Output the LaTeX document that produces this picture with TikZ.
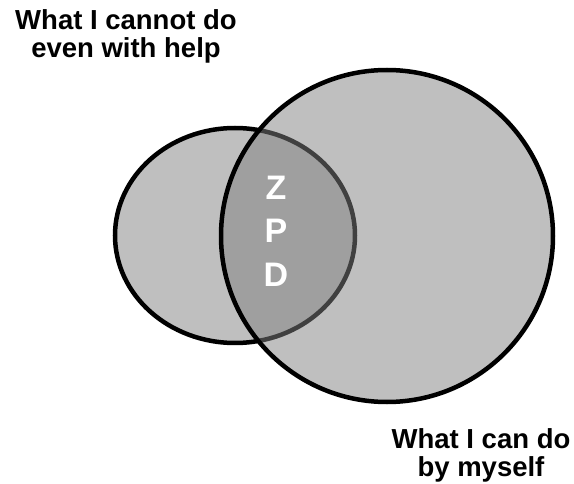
\documentclass[tikz,border=0pt]{standalone}
\usepackage{fontspec}
\setmainfont{Liberation Sans}
\usepackage{xcolor}
\usetikzlibrary{positioning}
\definecolor{lightgray}{HTML}{BFBFBF}
\definecolor{midgray}{HTML}{808080}

\begin{document}
\begin{tikzpicture}[x=1pt, y=-1pt,
  heading/.style={font=\bfseries\fontsize{27.5}{28}\selectfont, align=center,
                  text=black, inner sep=0pt},
  zpd/.style={font=\bfseries\fontsize{34}{43.5}\selectfont, align=center,
              text=white, inner sep=0pt},
  ring/.style={draw=black, line width=4.5pt}
]
\useasboundingbox (0,0) rectangle (574,484);

% the two sets
\draw[ring, fill=lightgray] (235,235.5) ellipse (120 and 107.5);
\draw[ring, fill=midgray, fill opacity=0.5] (387,236) circle (166);

\node[zpd] (zpd) at (276,231) {Z\\P\\D};

% Labels on the diagram
\node[heading] (cannot) at (126,36) {What I cannot do\\even with help};
\node[heading] (can) at (481,455) {What I can do\\by myself};

\end{tikzpicture}
\end{document}
